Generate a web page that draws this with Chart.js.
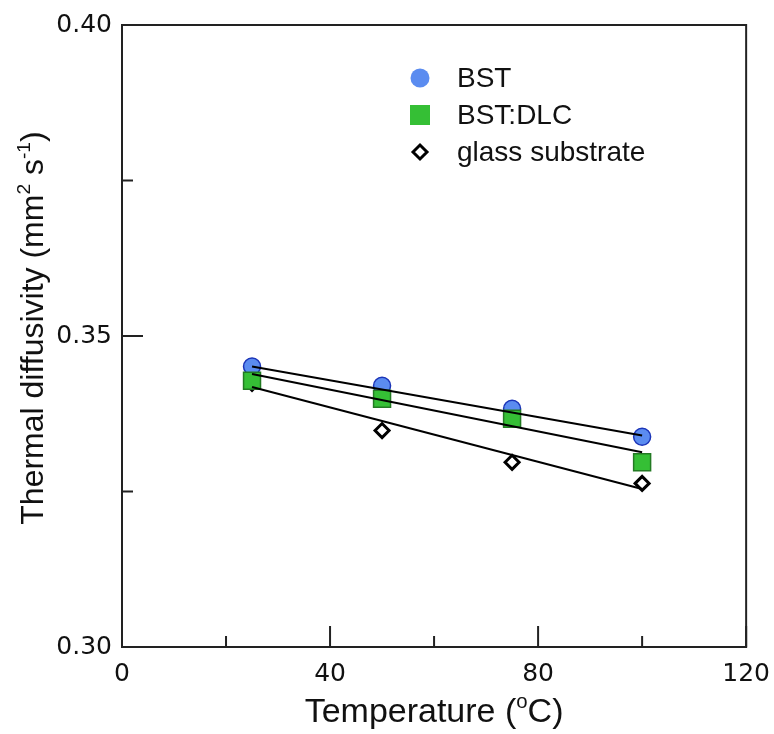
<!DOCTYPE html>
<html>
<head>
<meta charset="utf-8">
<script src="https://cdn.jsdelivr.net/npm/chart.js@4"></script>
<style>
  body { margin: 0; background: #fff; }
  canvas { display: block; }
</style>
</head>
<body>
<canvas id="diffChart" width="774" height="734"></canvas>
<script>
// data
const temps = [25, 50, 75, 100];
const bst = [0.3451, 0.3420, 0.3383, 0.3338];
const bstDlc = [0.3428, 0.3399, 0.3367, 0.3297];
const glass = [0.3424, 0.3348, 0.3297, 0.3263];

// fitted lines (end points)
const fitX = [25, 100];
const bstFit = [0.3451, 0.3340];
const bstDlcFit = [0.3439, 0.3313];
const glassFit = [0.3418, 0.3254];

const xMajor = [0, 40, 80, 120];
const yMajor = [0.30, 0.35, 0.40];

function pts(xs, ys) {
  return xs.map((x, i) => ({ x: x, y: ys[i] }));
}

function isMajor(list, v) {
  return list.some(m => Math.abs(m - v) < 1e-6);
}

// text with superscripts, centred on (x, y)
function drawRich(ctx, parts, size, x, y) {
  const font = s => s + 'px "Liberation Sans", Arial, sans-serif';
  let w = 0;
  parts.forEach(p => {
    ctx.font = font(p.sup ? size * 0.6 : size);
    p.w = ctx.measureText(p.t).width;
    w += p.w;
  });
  let cx = x - w / 2;
  ctx.textBaseline = 'alphabetic';
  ctx.textAlign = 'left';
  parts.forEach(p => {
    ctx.font = font(p.sup ? size * 0.6 : size);
    ctx.fillText(p.t, cx, p.sup ? y - size * 0.4 : y);
    cx += p.w;
  });
}

const framePlugin = {
  id: 'frame',
  afterDatasetsDraw(chart) {
    const ctx = chart.ctx;
    const a = chart.chartArea;
    const xs = chart.scales.x;
    const ys = chart.scales.y;
    ctx.save();
    ctx.strokeStyle = '#222';
    ctx.lineWidth = 2;
    ctx.strokeRect(a.left, a.top, a.right - a.left, a.bottom - a.top);
    ctx.beginPath();
    xs.ticks.forEach(t => {
      const px = xs.getPixelForValue(t.value);
      const len = isMajor(xMajor, t.value) ? 21 : 11;
      ctx.moveTo(px, a.bottom);
      ctx.lineTo(px, a.bottom - len);
    });
    ys.ticks.forEach(t => {
      const py = ys.getPixelForValue(t.value);
      const len = isMajor(yMajor, t.value) ? 21 : 11;
      ctx.moveTo(a.left, py);
      ctx.lineTo(a.left + len, py);
    });
    ctx.stroke();

    // legend
    const items = chart.data.datasets.filter(d => d.inLegend);
    const lx = 420, ly = 78, step = 37;
    items.forEach((d, i) => {
      const y = ly + i * step;
      ctx.beginPath();
      if (d.pointStyle === 'circle') {
        ctx.fillStyle = d.backgroundColor;
        ctx.arc(lx, y, 9.5, 0, Math.PI * 2);
        ctx.fill();
      } else if (d.pointStyle === 'rect') {
        ctx.fillStyle = d.backgroundColor;
        ctx.fillRect(lx - 10, y - 10, 20, 20);
      } else {
        ctx.fillStyle = '#fff';
        ctx.strokeStyle = '#000';
        ctx.lineWidth = 3;
        ctx.moveTo(lx - 7, y);
        ctx.lineTo(lx, y - 7);
        ctx.lineTo(lx + 7, y);
        ctx.lineTo(lx, y + 7);
        ctx.closePath();
        ctx.fill();
        ctx.stroke();
      }
      ctx.fillStyle = '#111';
      ctx.font = '28px "Liberation Sans", Arial, sans-serif';
      ctx.textAlign = 'left';
      ctx.textBaseline = 'middle';
      ctx.fillText(d.label, 457, y + 1);
    });

    // axis titles
    ctx.fillStyle = '#111';
    drawRich(ctx, [{ t: 'Temperature (' }, { t: 'o', sup: true }, { t: 'C)' }],
      34, (a.left + a.right) / 2, 722);
    ctx.save();
    ctx.translate(43, 328);
    ctx.rotate(-Math.PI / 2);
    drawRich(ctx, [{ t: 'Thermal diffusivity (mm' }, { t: '2', sup: true },
      { t: ' s' }, { t: '-1', sup: true }, { t: ')' }], 32, 0, 0);
    ctx.restore();
    ctx.restore();
  }
};

const ctx = document.getElementById('diffChart').getContext('2d');
new Chart(ctx, {
  type: 'scatter',
  data: {
    datasets: [
      { label: 'fit BST', data: pts(fitX, bstFit), showLine: true, borderColor: '#000',
        borderWidth: 2, pointRadius: 0, order: 0 },
      { label: 'fit BST:DLC', data: pts(fitX, bstDlcFit), showLine: true, borderColor: '#000',
        borderWidth: 2, pointRadius: 0, order: 1 },
      { label: 'fit glass', data: pts(fitX, glassFit), showLine: true, borderColor: '#000',
        borderWidth: 2, pointRadius: 0, order: 2 },
      { label: 'BST', inLegend: true, data: pts(temps, bst), pointStyle: 'circle', pointRadius: 8.5,
        backgroundColor: '#5b8cf0', borderColor: '#1c35b8', borderWidth: 1.5, order: 4 },
      { label: 'BST:DLC', inLegend: true, data: pts(temps, bstDlc), pointStyle: 'rect', pointRadius: 12,
        backgroundColor: '#35bf35', borderColor: '#237a23', borderWidth: 1.5, order: 3 },
      { label: 'glass substrate', inLegend: true, data: pts(temps, glass), pointStyle: 'rectRot',
        pointRadius: 7, backgroundColor: '#fff', borderColor: '#000', borderWidth: 3, order: 5 }
    ]
  },
  options: {
    responsive: false,
    animation: false,
    layout: { padding: { left: 0, right: 22, top: 25, bottom: 0 } },
    plugins: { legend: { display: false }, tooltip: { enabled: false } },
    scales: {
      x: {
        min: 0, max: 120,
        grid: { display: false },
        border: { display: false },
        afterFit: s => { s.height = 87; },
        ticks: {
          stepSize: 20,
          padding: 4,
          color: '#111',
          font: { family: '"DejaVu Sans"', size: 25 },
          callback: v => isMajor(xMajor, v) ? String(v) : ''
        }
      },
      y: {
        min: 0.30, max: 0.40,
        grid: { display: false },
        border: { display: false },
        afterFit: s => { s.width = 122; },
        ticks: {
          stepSize: 0.025,
          padding: 2,
          color: '#111',
          font: { family: '"DejaVu Sans"', size: 25 },
          callback: v => isMajor(yMajor, v) ? v.toFixed(2) : ''
        }
      }
    }
  },
  plugins: [framePlugin]
});
</script>
</body>
</html>
